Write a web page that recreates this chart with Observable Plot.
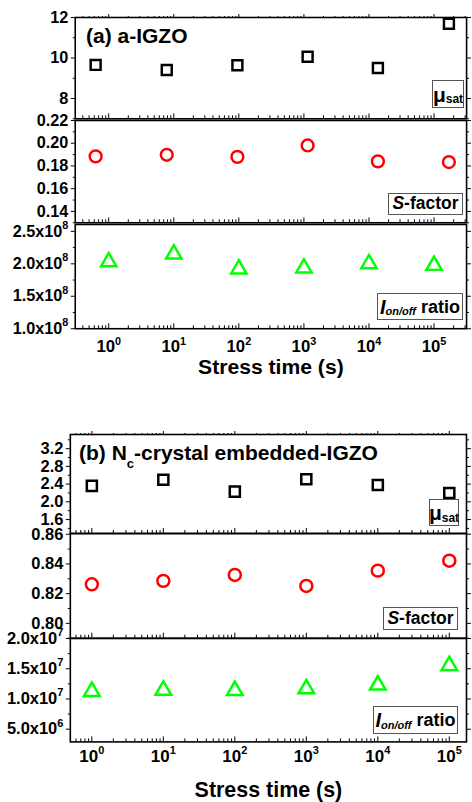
<!DOCTYPE html>
<html><head><meta charset="utf-8">
<script src="https://cdn.jsdelivr.net/npm/d3@7"></script>
<script src="https://cdn.jsdelivr.net/npm/@observablehq/plot@0.6"></script>
<style>
html,body{margin:0;padding:0;background:#fff;}
#root{position:relative;width:472px;height:802px;overflow:hidden;font-family:"Liberation Sans",Arial,sans-serif;font-weight:bold;color:#000;}
#root svg{position:absolute;left:0;}
.lbl{position:absolute;border:1px solid #555;background:#fff;box-sizing:border-box;display:flex;align-items:center;justify-content:center;white-space:nowrap;font-weight:bold;line-height:1;}
.title{position:absolute;font-size:21px;font-weight:bold;white-space:nowrap;line-height:21px;}
.sub{font-size:12px;position:relative;top:5px;}
</style></head><body><div id="root"></div>
<script>
// ---------------- data ----------------
// Panel (a) a-IGZO
const timeA = [0.63, 7.8, 95, 1140, 13700, 169000];        // mu_sat and S-factor stress times (s)
const timeAIon = [1, 10, 100, 1000, 10000, 100000];         // Ion/off stress times (s)
const muA = [9.66, 9.41, 9.64, 10.06, 9.51, 11.69];
const sA = [0.1884, 0.1898, 0.1880, 0.1980, 0.1840, 0.1834];
const ionA = [2.03e8, 2.15e8, 1.92e8, 1.935e8, 2.00e8, 1.975e8];
// Panel (b) Nc-crystal embedded-IGZO
const timeB = [1, 10, 100, 1000, 10000, 100000];
const muB = [2.36, 2.50, 2.23, 2.51, 2.38, 2.20];
const sB = [0.8263, 0.8286, 0.8326, 0.8252, 0.8355, 0.8422];
const ionB = [1.125e7, 1.146e7, 1.14e7, 1.167e7, 1.23e7, 1.55e7];

// tick values and labels
const xTicks = [1, 10, 100, 1000, 10000, 100000];
const xTickLabels = ["10^0", "10^1", "10^2", "10^3", "10^4", "10^5"];
const muATicks = [8, 10, 12], muATickLabels = ["8", "10", "12"], muAMinor = [7, 9, 11];
const sATicks = [0.14, 0.16, 0.18, 0.20, 0.22], sATickLabels = ["0.14", "0.16", "0.18", "0.20", "0.22"], sAMinor = [0.13, 0.15, 0.17, 0.19, 0.21];
const ionATicks = [1.0e8, 1.5e8, 2.0e8, 2.5e8], ionATickLabels = ["1.0x10^8", "1.5x10^8", "2.0x10^8", "2.5x10^8"], ionAMinor = [1.25e8, 1.75e8, 2.25e8];
const muBTicks = [1.6, 2.0, 2.4, 2.8, 3.2], muBTickLabels = ["1.6", "2.0", "2.4", "2.8", "3.2"], muBMinor = [1.4, 1.8, 2.2, 2.6, 3.0, 3.4];
const sBTicks = [0.80, 0.82, 0.84, 0.86], sBTickLabels = ["0.80", "0.82", "0.84", "0.86"], sBMinor = [0.79, 0.81, 0.83, 0.85];
const ionBTicks = [5e6, 1.0e7, 1.5e7, 2.0e7], ionBTickLabels = ["5.0x10^6", "1.0x10^7", "1.5x10^7", "2.0x10^7"], ionBMinor = [7.5e6, 1.25e7, 1.75e7];
const xTitle = "Stress time (s)";

// ---------------- drawing ----------------
const root = document.getElementById("root");
const FONT = "'Liberation Sans', Arial, sans-serif";
const xMinor = [];
for (let k = -1; k <= 5; k++) for (let m = 2; m <= 9; m++) xMinor.push(m * Math.pow(10, k));

function supify(svg) {
  const ns = "http://www.w3.org/2000/svg";
  svg.querySelectorAll("text").forEach(t => {
    const s = t.textContent;
    if (!s.includes("^")) return;
    const [base, sup] = s.split("^");
    t.textContent = "";
    const a = document.createElementNS(ns, "tspan"); a.textContent = base;
    const b = document.createElementNS(ns, "tspan"); b.textContent = sup;
    b.setAttribute("dy", "-8"); b.setAttribute("font-size", "11");
    t.appendChild(a); t.appendChild(b);
  });
}

function sub(o) {
  const H = o.bottom - o.top;
  const fmt = (ticks, labels) => d => labels[ticks.indexOf(d)];
  const minor = xMinor.filter(v => v > o.xDomain[0] && v < o.xDomain[1]);
  const marks = [
    Plot.frame({stroke: "black", strokeWidth: 1.6}),
    Plot.axisY({anchor: "left", ticks: o.yTicks, tickSize: 4, tickPadding: 3, tickFormat: fmt(o.yTicks, o.yLabels), fontSize: 16.5, fontWeight: "bold", label: null}),
    Plot.axisY({anchor: "left", ticks: o.yMinor, tickSize: 2, tickFormat: () => "", label: null}),
    Plot.axisY({anchor: "right", ticks: o.yTicks, tickSize: 4, tickFormat: () => "", label: null}),
    Plot.axisY({anchor: "right", ticks: o.yMinor, tickSize: 2, tickFormat: () => "", label: null}),
    Plot.tickX(xTicks, {x: d => d, insetTop: H - 5, stroke: "black", strokeWidth: 1}),
    Plot.tickX(minor, {x: d => d, insetTop: H - 3, stroke: "black", strokeWidth: 1}),
    Plot.dot(o.values, {x: (d, i) => o.times[i], y: d => d, symbol: o.symbol, r: o.r, stroke: o.color, strokeWidth: 2.5, fill: "none"})
  ];
  if (o.topAxis) {
    marks.push(Plot.axisX({anchor: "top", ticks: xTicks, tickSize: 4, tickFormat: () => "", label: null}));
    marks.push(Plot.axisX({anchor: "top", ticks: minor, tickSize: 2, tickFormat: () => "", label: null}));
  }
  if (o.xLabels) {
    marks.push(Plot.axisX({anchor: "bottom", ticks: xTicks, tickSize: 0, tickPadding: o.xPad, tickFormat: fmt(xTicks, xTickLabels), fontSize: 17, fontWeight: "bold", label: null}));
    marks.push(Plot.text([xTitle], {text: d => d, frameAnchor: "bottom", lineAnchor: "top", dy: o.titleDy, fontSize: 21.5, fontWeight: "bold"}));
  }
  const svg = Plot.plot({
    width: o.right + 6, height: H,
    marginLeft: o.left, marginRight: 6, marginTop: 0, marginBottom: 0,
    x: {type: "log", domain: o.xDomain, axis: null},
    y: {domain: o.yDomain, axis: null},
    style: {background: "transparent", overflow: "visible", fontFamily: FONT, color: "black"},
    marks
  });
  svg.style.position = "absolute";
  svg.style.top = o.top + "px";
  svg.style.left = "0px";
  supify(svg);
  root.appendChild(svg);
}

const xDomA = [0.306, 316000], xDomB = [0.5, 174000];
// panel (a)
sub({top: 17, bottom: 120, left: 76, right: 474, xDomain: xDomA, yDomain: [7, 12], yTicks: muATicks, yLabels: muATickLabels, yMinor: muAMinor,
     times: timeA, values: muA, symbol: "square", r: 5.7, color: "black", topAxis: true});
sub({top: 120, bottom: 224, left: 76, right: 474, xDomain: xDomA, yDomain: [0.13, 0.22], yTicks: sATicks, yLabels: sATickLabels, yMinor: sAMinor,
     times: timeA, values: sA, symbol: "circle", r: 6, color: "#ff0000"});
sub({top: 224, bottom: 330, left: 76, right: 474, xDomain: xDomA, yDomain: [1.0e8, 2.606e8], yTicks: ionATicks, yLabels: ionATickLabels, yMinor: ionAMinor,
     times: timeAIon, values: ionA, symbol: "triangle", r: 5.8, color: "#00ff00", xLabels: true, xPad: 12, titleDy: 31});
// panel (b)
sub({top: 434, bottom: 533.3, left: 70, right: 467.3, xDomain: xDomB, yDomain: [1.285, 3.52], yTicks: muBTicks, yLabels: muBTickLabels, yMinor: muBMinor,
     times: timeB, values: muB, symbol: "square", r: 5.7, color: "black", topAxis: true});
sub({top: 533.3, bottom: 638.3, left: 70, right: 467.3, xDomain: xDomB, yDomain: [0.79, 0.8605], yTicks: sBTicks, yLabels: sBTickLabels, yMinor: sBMinor,
     times: timeB, values: sB, symbol: "circle", r: 6, color: "#ff0000"});
sub({top: 638.3, bottom: 742, left: 70, right: 467.3, xDomain: xDomB, yDomain: [2.9e6, 2.0e7], yTicks: ionBTicks, yLabels: ionBTickLabels, yMinor: ionBMinor,
     times: timeB, values: ionB, symbol: "triangle", r: 5.8, color: "#00ff00", xLabels: true, xPad: 8.5, titleDy: 40});

// titles and in-plot labels
function html(s) { const d = document.createElement("div"); d.innerHTML = s; const e = d.firstElementChild; root.appendChild(e); return e; }
html(`<div class="title" style="left:86px;top:25px">(a) a-IGZO</div>`);
html(`<div class="title" style="left:79px;top:442px">(b) N<span style="font-size:13px;position:relative;top:8px">c</span>-crystal embedded-IGZO</div>`);
const muLbl = `<span style="font-size:21px">&mu;</span><span class="sub">sat</span>`;
const sLbl = `<span style="font-size:17.5px"><i>S</i>-factor</span>`;
const ionLbl = `<span style="font-size:20px"><i>I</i></span><span class="sub" style="font-size:11px"><i>on/off</i></span><span style="font-size:18px">&nbsp;ratio</span>`;
html(`<div class="lbl" style="left:432px;top:80px;width:32px;height:28px">${muLbl}</div>`);
html(`<div class="lbl" style="left:388px;top:193px;width:75px;height:22px">${sLbl}</div>`);
html(`<div class="lbl" style="left:377px;top:293px;width:86px;height:27px">${ionLbl}</div>`);
html(`<div class="lbl" style="left:429px;top:499px;width:30px;height:27px">${muLbl}</div>`);
html(`<div class="lbl" style="left:383px;top:607px;width:75px;height:23px">${sLbl}</div>`);
html(`<div class="lbl" style="left:373px;top:706px;width:85px;height:28px">${ionLbl}</div>`);
</script></body></html>
